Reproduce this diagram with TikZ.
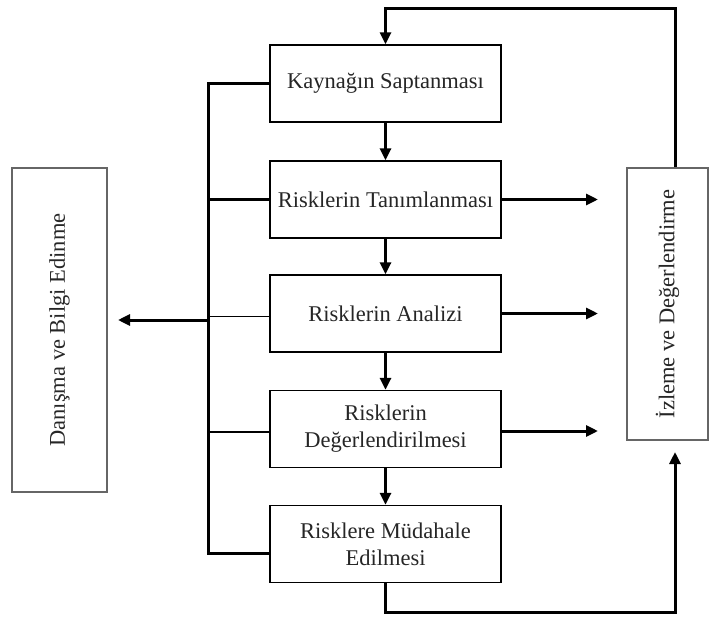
\documentclass[tikz,border=0pt]{standalone}
\usepackage{fontspec}
\setmainfont{Liberation Serif}
\usetikzlibrary{arrows.meta}
\begin{document}
\begin{tikzpicture}[x=1pt,y=-1pt,
  font=\fontsize{22.5}{27}\selectfont,
  stepbox/.style={draw=black,line width=1.4pt,minimum width=231pt,minimum height=77pt,inner sep=0pt,align=center,text=black!85},
  sidebox/.style={draw=black!60,line width=2pt,inner sep=0pt,text=black!85},
  thickline/.style={line width=3pt},
  thinline/.style={line width=1.5pt},
  arr/.style={line width=3pt,-{Triangle[length=12pt,width=11pt]}}
]
\useasboundingbox (0,0) rectangle (709,621);
\node[stepbox] (K) at (385.5,83.5) {Kaynağın Saptanması};
\node[stepbox] (T) at (385.5,199.5) {Risklerin Tanımlanması};
\node[stepbox] (A) at (385.5,313.5) {Risklerin Analizi};
\node[stepbox] (D) at (385.5,429) {Risklerin\\Değerlendirilmesi};
\node[stepbox] (M) at (385.5,544) {Risklere Müdahale\\Edilmesi};
\node[sidebox,minimum width=95pt,minimum height=324pt] (L) at (59.5,330) {};
\node[rotate=90,text=black!85] at (L.center) {Danışma ve Bilgi Edinme};
\node[sidebox,minimum width=81pt,minimum height=272pt] (R) at (667.5,304) {};
\node[rotate=90,text=black!85] at (R.center) {İzleme ve Değerlendirme};
% coordinates
\coordinate (lv) at (208,0);
\coordinate (tr) at (675,8);
\coordinate (br) at (675,612);
\coordinate (la) at (208,320);
\coordinate (e1) at (598,199.5);
\coordinate (e2) at (598,313.5);
\coordinate (e3) at (598,431);
% main flow
\draw[arr] (K) -- (T);
\draw[arr] (T) -- (A);
\draw[arr] (A) -- (D);
\draw[arr] (D) -- (M);
% top loop
\draw[arr] ([xshift=7.5pt]R.north) -- (tr) -| (K.north);
% bottom loop
\draw[arr,shorten >=11pt] (M.south) |- (br) -- (br |- R.south);
% right arrows
\draw[arr] (T.east) -- (e1);
\draw[arr] (A.east) -- (e2);
\draw[arr] ([yshift=-2pt]D.east) -- (e3);
% left bus
\draw[thickline] (K.west) -- (K.west -| lv) -- ([yshift=-9pt]M.west -| lv) -- ([yshift=-9pt]M.west);
\draw[thickline] (T.west) -- (T.west -| lv);
\draw[thinline] ([yshift=-3pt]A.west) -- ([yshift=-3pt]A.west -| lv);
\draw[thinline] ([yshift=-3pt]D.west) -- ([yshift=-3pt]D.west -| lv);
\draw[arr,shorten >=10pt] (la) -- (la -| L.east);
\end{tikzpicture}
\end{document}
